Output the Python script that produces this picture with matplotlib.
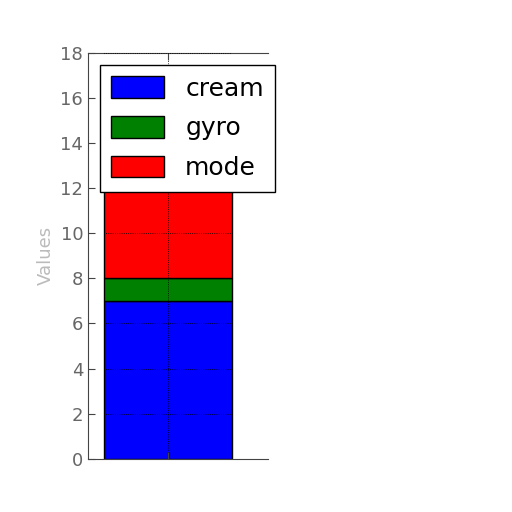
import matplotlib
matplotlib.use("Agg")
import matplotlib.pyplot as plt
from matplotlib.transforms import Bbox, TransformedBbox

categories = [""]
series_names = ["cream", "gyro", "mode"]
cream = [7]
gyro = [1]
mode = [5]
colors = ["#0000ff", "#008000", "#ff0000"]

fig = plt.figure(figsize=(5.12, 5.12), dpi=100)
ax = fig.add_axes([0.172, 0.104, 0.352, 0.793])

x = list(range(len(categories)))
bottom = [0] * len(categories)
bars = []
for name, vals, col in zip(series_names, [cream, gyro, mode], colors):
    bars.append(ax.bar(x, vals, width=0.8, bottom=bottom, color=col,
                       edgecolor="black", linewidth=1.0, label=name))
    bottom = [b + v for b, v in zip(bottom, vals)]

ax.set_xlim(-0.5, 0.625)
ax.set_ylim(0, 18)
ax.set_yticks(range(0, 19, 2))
ax.set_xticks(x)
ax.set_xticklabels(categories)
ax.grid(True, color="black", linestyle=":", linewidth=0.6)
ax.set_axisbelow(False)
ax.tick_params(direction="in", length=5, top=True, right=False,
               labelsize=13, labelcolor="#666666", colors="#444444")
for s in ax.spines.values():
    s.set_color("#444444")
ax.spines["right"].set_visible(False)
ax.set_ylabel("Values", color="#bbbbbb", fontsize=13)

# horizontal grid only shows across the bar in the reference
p = bars[0].patches[0]
clip = TransformedBbox(Bbox([[p.get_x(), 0], [p.get_x() + p.get_width(), 18]]),
                       ax.transData)
for gl in ax.get_ygridlines():
    gl.set_clip_box(clip)

leg = ax.legend(loc="upper left", bbox_to_anchor=(0.067, 0.970), fontsize=18,
                fancybox=False, framealpha=1, edgecolor="black",
                handlelength=2.1, handleheight=0.95, labelspacing=0.62,
                borderpad=0.45, handletextpad=0.85, borderaxespad=0)
leg.get_frame().set_linewidth(1.0)

fig.savefig("out.png", dpi=100)
